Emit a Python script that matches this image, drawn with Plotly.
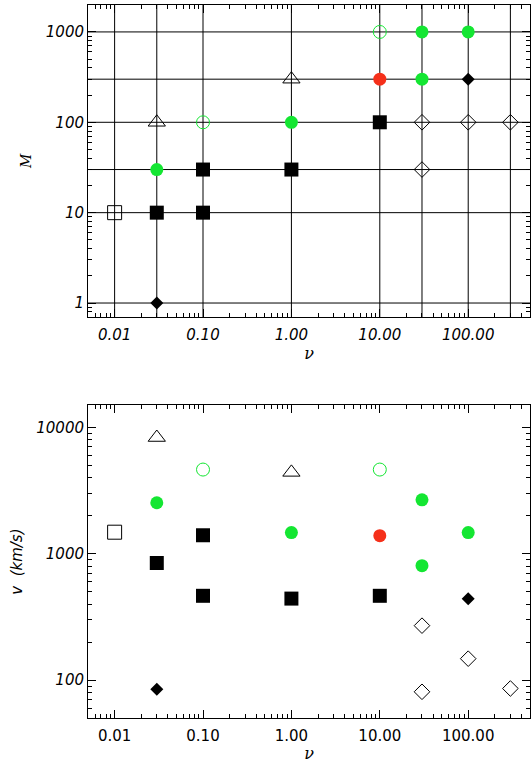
import plotly.graph_objects as go

# ---------------- data ----------------
# filled black squares
nu_sq_filled = [0.03, 0.1, 0.1, 1, 10]
M_sq_filled = [10, 10, 30, 30, 100]
v_sq_filled = [845, 1400, 465, 442, 465]

# open black square
nu_sq_open = [0.01]
M_sq_open = [10]
v_sq_open = [1480]

# filled green circles
nu_gr_filled = [0.03, 1, 30, 30, 100]
M_gr_filled = [30, 100, 300, 1000, 1000]
v_gr_filled = [2530, 1470, 2670, 805, 1470]

# open green circles
nu_gr_open = [0.1, 10]
M_gr_open = [100, 1000]
v_gr_open = [4630, 4630]

# filled red circle
nu_red = [10]
M_red = [300]
v_red = [1390]

# open triangles
nu_tri = [0.03, 1]
M_tri = [100, 300]
v_tri = [8300, 4400]

# filled diamonds
nu_dia_filled = [0.03, 100]
M_dia_filled = [1, 300]
v_dia_filled = [85, 440]

# open diamonds
nu_dia_open = [30, 30, 100, 300]
M_dia_open = [30, 100, 100, 100]
v_dia_open = [270, 81, 148, 86]

x_tickvals = [0.01, 0.1, 1, 10, 100]
x_ticktext = ["0.01", "0.10", "1.00", "10.00", "100.00"]
M_tickvals = [1, 10, 100, 1000]
M_ticktext = ["1", "10", "100", "1000"]
v_tickvals = [100, 1000, 10000]
v_ticktext = ["100", "1000", "10000"]

GREEN = "#14e632"
RED = "#f5301a"

groups = [
    dict(nu=nu_sq_filled, M=M_sq_filled, v=v_sq_filled, symbol="square", size=14, color="black", line="black", lw=0),
    dict(nu=nu_sq_open, M=M_sq_open, v=v_sq_open, symbol="square-open", size=14, color="black", line="black", lw=1),
    dict(nu=nu_gr_filled, M=M_gr_filled, v=v_gr_filled, symbol="circle", size=13, color=GREEN, line=GREEN, lw=0),
    dict(nu=nu_gr_open, M=M_gr_open, v=v_gr_open, symbol="circle-open", size=13, color=GREEN, line=GREEN, lw=1),
    dict(nu=nu_red, M=M_red, v=v_red, symbol="circle", size=13, color=RED, line=RED, lw=0),
    dict(nu=nu_tri, M=M_tri, v=v_tri, symbol="triangle-up-open", size=15, color="black", line="black", lw=1),
    dict(nu=nu_dia_filled, M=M_dia_filled, v=v_dia_filled, symbol="diamond", size=10, color="black", line="black", lw=0),
    dict(nu=nu_dia_open, M=M_dia_open, v=v_dia_open, symbol="diamond-open", size=12, color="black", line="black", lw=1),
]

fig = go.Figure()

# grid lines in the top panel, derived from the data values
all_nu = sorted(set(sum([g["nu"] for g in groups], [])))
all_M = sorted(set(sum([g["M"] for g in groups], [])))
for xv in all_nu:
    fig.add_shape(type="line", xref="x", yref="y domain", x0=xv, x1=xv, y0=0, y1=1,
                  line=dict(color="black", width=1), layer="below")
for yv in all_M:
    fig.add_shape(type="line", xref="x domain", yref="y", x0=0, x1=1, y0=yv, y1=yv,
                  line=dict(color="black", width=1), layer="below")

for g in groups:
    mk = dict(symbol=g["symbol"], size=g["size"], color=g["color"],
              line=dict(color=g["line"], width=g["lw"]))
    fig.add_trace(go.Scatter(x=g["nu"], y=g["M"], mode="markers", marker=mk,
                             xaxis="x", yaxis="y", showlegend=False, cliponaxis=False))
    fig.add_trace(go.Scatter(x=g["nu"], y=g["v"], mode="markers", marker=mk,
                             xaxis="x2", yaxis="y2", showlegend=False, cliponaxis=False))

def minor_vals(lo, hi):
    out = []
    for e in range(lo, hi + 1):
        for d in range(2, 10):
            out.append(d * 10.0 ** e)
    return out

ital = dict(family="DejaVu Sans", size=15, color="black", style="italic")
reg = dict(family="DejaVu Sans", size=15, color="black")

common_axis = dict(type="log", showgrid=False, zeroline=False, showline=True, linecolor="black",
                   linewidth=1, mirror="ticks", ticks="inside", ticklen=8, tickcolor="black",
                   tickwidth=1)

fig.update_layout(
    width=531, height=763,
    margin=dict(l=88, r=1, t=0, b=0),
    paper_bgcolor="white", plot_bgcolor="white",
    xaxis=dict(**common_axis, domain=[0, 1], anchor="y", range=[-2.301, 2.699],
               tickmode="array", tickvals=x_tickvals, ticktext=x_ticktext, tickfont=ital,
               ticklabelstandoff=4,
               minor=dict(tickmode="array", tickvals=minor_vals(-3, 2), ticks="inside", ticklen=4,
                          tickcolor="black", showgrid=False),
               title=dict(text="ν", font=dict(family="DejaVu Serif", size=16, style="italic", color="black"), standoff=4)),
    yaxis=dict(**common_axis, domain=[0.5845, 0.9938], anchor="x", range=[-0.155, 3.301],
               tickmode="array", tickvals=M_tickvals, ticktext=M_ticktext, tickfont=ital,
               ticklabelstandoff=0,
               minor=dict(tickmode="array", tickvals=minor_vals(-1, 3), ticks="inside", ticklen=4,
                          tickcolor="black", showgrid=False),
               title=dict(text="M", font=dict(family="DejaVu Serif", size=14, style="italic", color="black"), standoff=10)),
    xaxis2=dict(**common_axis, domain=[0, 1], anchor="y2", range=[-2.301, 2.699],
                tickmode="array", tickvals=x_tickvals, ticktext=x_ticktext, tickfont=reg,
                ticklabelstandoff=4,
                minor=dict(tickmode="array", tickvals=minor_vals(-3, 2), ticks="inside", ticklen=4,
                           tickcolor="black", showgrid=False),
                title=dict(text="ν", font=dict(family="DejaVu Serif", size=16, style="italic", color="black"), standoff=7)),
    yaxis2=dict(**common_axis, domain=[0.0586, 0.4692], anchor="x2", range=[1.699, 4.176],
                tickmode="array", tickvals=v_tickvals, ticktext=v_ticktext, tickfont=ital,
                ticklabelstandoff=0,
                minor=dict(tickmode="array", tickvals=minor_vals(1, 4), ticks="inside", ticklen=4,
                           tickcolor="black", showgrid=False),
                title=dict(text="v  (km/s)", font=dict(family="DejaVu Sans", size=15, style="italic", color="black"), standoff=10)),
)

fig.write_html("out.html", config={"displayModeBar": False},
               post_script="document.body.style.margin='0';document.body.style.padding='0';"
                           "document.body.style.overflow='hidden';")
